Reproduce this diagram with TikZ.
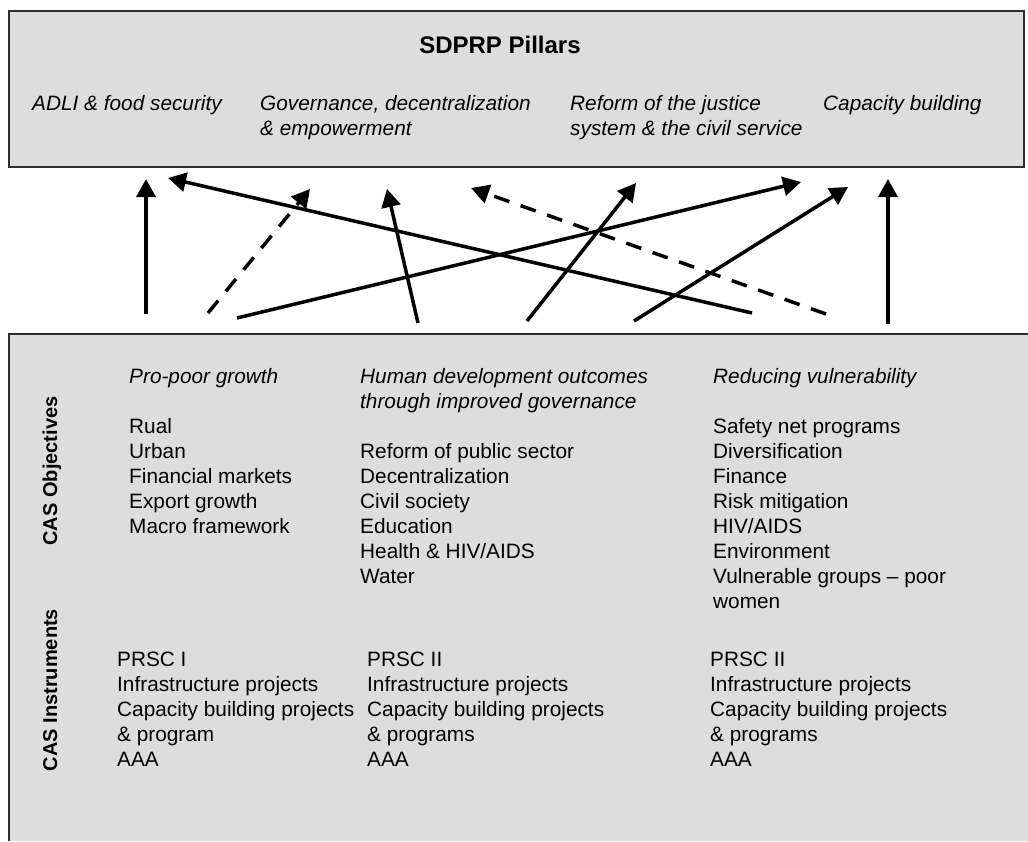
\documentclass[tikz,border=0pt]{standalone}
\usepackage{fontspec}
\setmainfont{Liberation Sans}
\usetikzlibrary{arrows.meta}
\definecolor{panelgray}{RGB}{221,221,221}
\definecolor{edgegray}{RGB}{45,45,45}
\newcommand\colblock[1]{\begin{tabular}[t]{@{}l@{}}#1\end{tabular}}
\begin{document}
\begin{tikzpicture}[x=1pt,y=-1pt,
  panel/.style={fill=panelgray, draw=edgegray, line width=1.3pt},
  txt/.style={inner sep=0pt, anchor=base west, font=\fontsize{20.8}{25}\selectfont},
  ttl/.style={inner sep=0pt, anchor=base, font=\fontsize{24}{29}\selectfont\bfseries},
  side/.style={inner sep=0pt, anchor=base, rotate=90, font=\fontsize{20}{24}\selectfont\bfseries},
  link/.style={line width=3.5pt, -{Triangle[length=18pt,width=19pt]}},
  dlink/.style={link, dash pattern=on 16pt off 12pt}]
\useasboundingbox (0,0) rectangle (1028,841);
% top panel
\draw[panel] (9,11) rectangle (1024,167);
\node[ttl] (title) at (500,53) {SDPRP Pillars};
\node[txt] (p1) at (32,110) {\colblock{\itshape ADLI \& food security}};
\node[txt] (p2) at (260,110) {\colblock{\itshape Governance, decentralization\\\itshape \& empowerment}};
\node[txt] (p3) at (570,110) {\colblock{\itshape Reform of the justice\\\itshape system \& the civil service}};
\node[txt] (p4) at (823,110) {\colblock{\itshape Capacity building}};
% bottom panel
\fill[panelgray] (9,334) rectangle (1028,841);
\draw[edgegray, line width=1.3pt] (9,841) -- (9,334) -- (1028,334);
\node[side] (obj) at (57,471) {CAS Objectives};
\node[side] (ins) at (57,690) {CAS Instruments};
\node[txt] (c1) at (129,383) {\colblock{\itshape Pro-poor growth\\[25pt]
  Rual\\Urban\\Financial markets\\Export growth\\Macro framework}};
\node[txt] (c2) at (360,383) {\colblock{\itshape Human development outcomes\\\itshape through improved governance\\[25pt]
  Reform of public sector\\Decentralization\\Civil society\\Education\\Health \& HIV/AIDS\\Water}};
\node[txt] (c3) at (713,383) {\colblock{\itshape Reducing vulnerability\\[25pt]
  Safety net programs\\Diversification\\Finance\\Risk mitigation\\HIV/AIDS\\Environment\\Vulnerable groups -- poor\\women}};
\node[txt] (i1) at (117,666) {\colblock{PRSC I\\Infrastructure projects\\Capacity building projects\\\& program\\AAA}};
\node[txt] (i2) at (367,666) {\colblock{PRSC II\\Infrastructure projects\\Capacity building projects\\\& programs\\AAA}};
\node[txt] (i3) at (710,666) {\colblock{PRSC II\\Infrastructure projects\\Capacity building projects\\\& programs\\AAA}};
% arrow ends
\coordinate (t1) at (146,314); \coordinate (h1) at (146,179);
\coordinate (t2) at (208,313); \coordinate (h2) at (310,189);
\coordinate (t3) at (752,313); \coordinate (h3) at (168,178);
\coordinate (t4) at (237,318); \coordinate (h4) at (801,182);
\coordinate (t5) at (418,323); \coordinate (h5) at (387,189);
\coordinate (t6) at (826,314); \coordinate (h6) at (471,188);
\coordinate (t7) at (527,321); \coordinate (h7) at (636,183);
\coordinate (t8) at (634,321); \coordinate (h8) at (848,187);
\coordinate (t9) at (888,324); \coordinate (h9) at (888,179);
\draw[link] (t1) -- (h1);
\draw[dlink] (t2) -- (h2);
\draw[link] (t3) -- (h3);
\draw[link] (t4) -- (h4);
\draw[link] (t5) -- (h5);
\draw[dlink] (t6) -- (h6);
\draw[link] (t7) -- (h7);
\draw[link] (t8) -- (h8);
\draw[link] (t9) -- (h9);
\end{tikzpicture}
\end{document}
